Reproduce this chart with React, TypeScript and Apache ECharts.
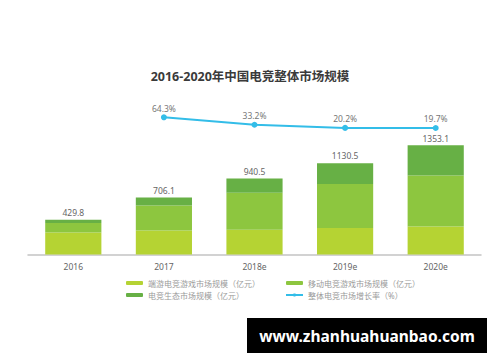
import React, { useEffect, useRef } from "react";
import * as echarts from "echarts";

const title = "2016-2020年中国电竞整体市场规模";
const categories = ["2016", "2017", "2018e", "2019e", "2020e"];
const pcGame = [273, 297, 306, 327, 347];
const mobileGame = [116, 310, 459, 545, 632];
const ecosystem = [40.8, 99.1, 175.5, 258.5, 374.1];
const totals = [429.8, 706.1, 940.5, 1130.5, 1353.1];
const growth: (number | null)[] = [null, 64.3, 33.2, 20.2, 19.7];
const seriesNames = [
  "端游电竞游戏市场规模（亿元）",
  "移动电竞游戏市场规模（亿元）",
  "电竞生态市场规模（亿元）",
  "整体电竞市场增长率（%）",
];
const watermark = "www.zhanhuahuanbao.com";

const FONT = '"Noto Sans", "Noto Sans CJK SC", sans-serif';

export default function App() {
  const ref = useRef<HTMLDivElement>(null);
  useEffect(() => {
    if (!ref.current) return;
    const chart = echarts.init(ref.current, null, { renderer: "svg" });
    const legendCommon = {
      orient: "vertical" as const,
      padding: 0,
      itemWidth: 17,
      itemHeight: 4,
      itemGap: 2,
      textStyle: { fontSize: 8, color: "#9a9a9a", fontFamily: FONT, lineHeight: 10 },
    };
    chart.setOption({
      animation: false,
      backgroundColor: "#ffffff",
      title: {
        text: title,
        left: "center",
        top: 70,
        padding: 0,
        textStyle: { fontSize: 12.5, fontWeight: "bold", color: "#3a3a3a", fontFamily: FONT },
      },
      legend: [
        { ...legendCommon, left: 126, top: 278, data: [seriesNames[0], seriesNames[2]] },
        { ...legendCommon, left: 285, top: 278, data: [seriesNames[1], seriesNames[3]] },
      ],
      grid: { left: 28, right: 19, top: 110, bottom: 107.5 },
      xAxis: {
        type: "category",
        data: categories,
        axisLine: { lineStyle: { color: "#c4c4c4", width: 1.5 } },
        axisTick: { show: false },
        axisLabel: { fontSize: 8.5, color: "#666", fontFamily: FONT, margin: 8 },
      },
      yAxis: [
        { type: "value", min: 0, max: 1790, show: false, splitLine: { show: false } },
        { type: "value", min: -507.3, max: 94.7, show: false, splitLine: { show: false } },
      ],
      series: [
        {
          name: seriesNames[0],
          type: "bar",
          stack: "total",
          barWidth: "62%",
          data: pcGame,
          itemStyle: { color: "#b5d333" },
        },
        {
          name: seriesNames[1],
          type: "bar",
          stack: "total",
          data: mobileGame,
          itemStyle: { color: "#8dc63f" },
        },
        {
          name: seriesNames[2],
          type: "bar",
          stack: "total",
          data: ecosystem,
          itemStyle: { color: "#67b045" },
          label: {
            show: true,
            position: "top",
            distance: 3,
            fontSize: 8.5,
            color: "#666",
            fontFamily: FONT,
            formatter: (p: any) => totals[p.dataIndex].toFixed(1),
          },
        },
        {
          name: seriesNames[3],
          type: "line",
          yAxisIndex: 1,
          data: growth,
          symbol: "circle",
          symbolSize: 6,
          lineStyle: { color: "#33bde8", width: 2 },
          itemStyle: { color: "#33bde8" },
          label: {
            show: true,
            position: "top",
            distance: 2,
            fontSize: 8.5,
            color: "#777",
            fontFamily: FONT,
            formatter: (p: any) => p.value.toFixed(1) + "%",
          },
        },
      ],
      graphic: [
        {
          type: "rect",
          left: 247,
          top: 318,
          shape: { width: 240, height: 35 },
          style: { fill: "#000" },
        },
        {
          type: "text",
          x: 367,
          y: 336,
          style: {
            text: watermark,
            fill: "#fff",
            fontSize: 15.5,
            fontWeight: "bold",
            fontFamily: FONT,
            align: "center",
            verticalAlign: "middle",
          },
        },
      ],
    });
    return () => chart.dispose();
  }, []);
  return (
    <div
      ref={ref}
      style={{ position: "fixed", left: 0, top: 0, width: 500, height: 362 }}
    />
  );
}
